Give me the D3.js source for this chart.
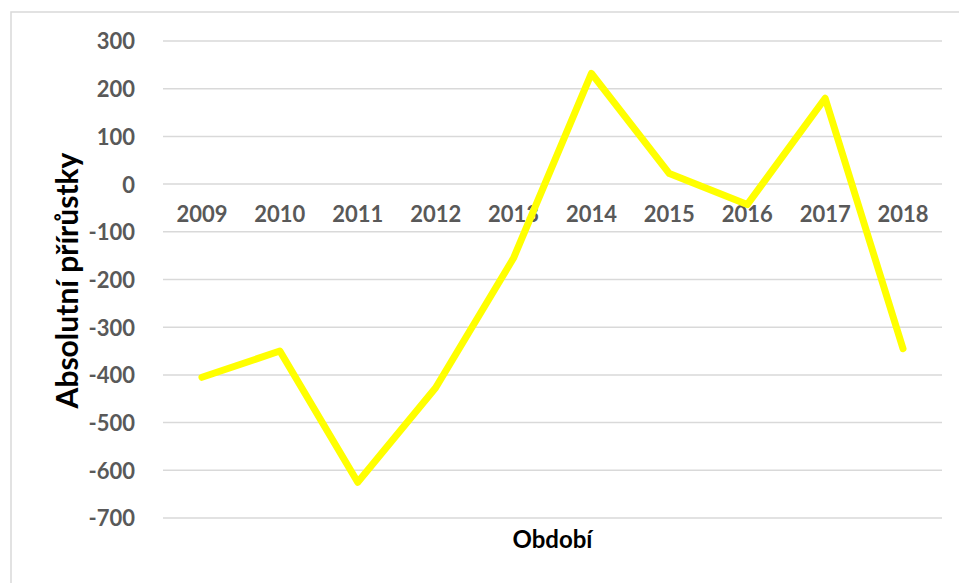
<!DOCTYPE html>
<html><head><meta charset="utf-8">
<script src="https://cdn.jsdelivr.net/npm/d3@7"></script>
<style>html,body{margin:0;padding:0;background:#fff;}svg{display:block;}</style>
</head><body>
<script>
const years = ["2009","2010","2011","2012","2013","2014","2015","2016","2017","2018"];
const values = [-405, -350, -625, -427, -155, 232, 22, -43, 180, -345];
const yTicks = [300, 200, 100, 0, -100, -200, -300, -400, -500, -600, -700];
const yTitle = "Absolutní přírůstky";
const xTitle = "Období";

(function () {
const W = 959, H = 583;
const svg = d3.select("body").append("svg").attr("width", W).attr("height", H);
svg.append("rect").attr("x", 11).attr("y", 12).attr("width", 1000).attr("height", 1000)
  .attr("fill", "#fff").attr("stroke", "#d9d9d9").attr("stroke-width", 1.5);

const mLeft = 163, mRight = 942, mTop = 41, mBottom = 518;
const x = d3.scaleBand().domain(years).range([mLeft, mRight]);
const y = d3.scaleLinear().domain([-700, 300]).range([mBottom, mTop]);

const font = "Lato, 'Open Sans', sans-serif";

// gridlines
svg.append("g").selectAll("line").data(yTicks).join("line")
  .attr("x1", mLeft).attr("x2", mRight)
  .attr("y1", d => y(d)).attr("y2", d => y(d))
  .attr("stroke", "#d9d9d9").attr("stroke-width", 1.5);

// y axis labels
const yAxis = d3.axisLeft(y).tickValues(yTicks).tickSize(0).tickPadding(0)
  .tickFormat(d => String(d));
const ga = svg.append("g").attr("transform", `translate(${mLeft - 28},0)`).call(yAxis);
ga.select(".domain").remove();
ga.selectAll("text").attr("font-family", font).attr("font-weight", "bold")
  .attr("font-size", 22).attr("fill", "#595959").attr("dy", "0.36em");

// x axis labels at zero line
const xAxis = d3.axisBottom(x).tickSize(0).tickPadding(0);
const gx = svg.append("g").attr("transform", `translate(0,${y(0)})`).call(xAxis);
gx.select(".domain").remove();
gx.selectAll("text").attr("font-family", font).attr("font-weight", "bold")
  .attr("font-size", 22).attr("fill", "#595959").attr("dy", "1.73em");

// line
const line = d3.line().x((d, i) => x(years[i]) + x.bandwidth() / 2).y(d => y(d));
svg.append("path").datum(values).attr("d", line)
  .attr("fill", "none").attr("stroke", "#ffff00").attr("stroke-width", 7)
  .attr("stroke-linejoin", "round").attr("stroke-linecap", "round");

// titles
svg.append("text").attr("transform", `translate(78,${(mTop + mBottom) / 2 + 1}) rotate(-90)`)
  .attr("text-anchor", "middle").attr("font-family", font).attr("font-weight", "bold")
  .attr("font-size", 30).attr("fill", "#000").text(yTitle);
svg.append("text").attr("x", (mLeft + mRight) / 2).attr("y", 548)
  .attr("text-anchor", "middle").attr("font-family", font).attr("font-weight", "bold")
  .attr("font-size", 24).attr("fill", "#000").text(xTitle);
})();
</script>
</body></html>
